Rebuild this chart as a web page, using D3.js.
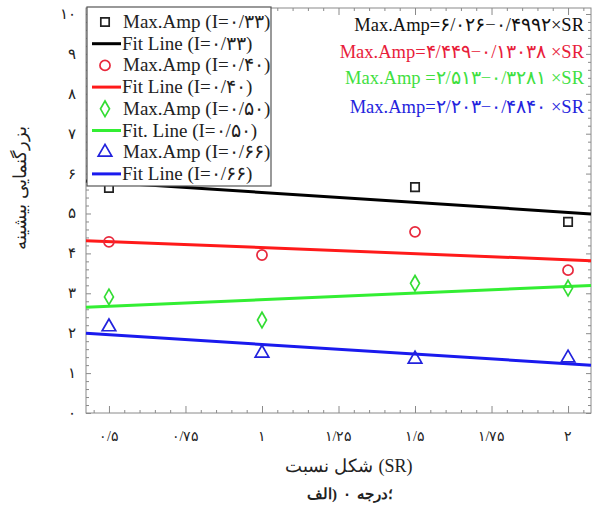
<!DOCTYPE html>
<html><head><meta charset="utf-8">
<script src="https://cdn.jsdelivr.net/npm/d3@7"></script>
<style>body{margin:0;background:#fff}svg{display:block}</style>
</head><body>
<svg id="c" width="596" height="517"></svg>
<script>
// ---- data ----
const srValues = [0.5, 1, 1.5, 2];
const ampI033 = [5.64, 6.0, 5.66, 4.79];
const ampI040 = [4.29, 3.96, 4.54, 3.58];
const ampI050 = [2.91, 2.33, 3.25, 3.13];
const ampI066 = [2.16, 1.50, 1.35, 1.38];
const fitIntercepts = [6.026, 4.449, 2.513, 2.203];
const fitSlopes = [-0.4992, -0.3038, 0.3281, -0.484];
const seriesLabels = ["۰/۳۳", "۰/۴۰", "۰/۵۰", "۰/۶۶"];
const equationTexts = [
  "Max.Amp=۶/۰۲۶−۰/۴۹۹۲×SR",
  "Max.Amp=۴/۴۴۹−۰/۱۳۰۳۸ ×SR",
  "Max.Amp =۲/۵۱۳−۰/۳۲۸۱ ×SR",
  "Max.Amp=۲/۲۰۳−۰/۴۸۴۰ ×SR"
];
const xTickValues = [0.5, 0.75, 1, 1.25, 1.5, 1.75, 2];
const xTickLabels = ["۰/۵", "۰/۷۵", "۱", "۱/۲۵", "۱/۵", "۱/۷۵", "۲"];
const yTickValues = [0,1,2,3,4,5,6,7,8,9,10];
const yTickLabels = ["۰","۱","۲","۳","۴","۵","۶","۷","۸","۹","۱۰"];
const yLabelText = "بزرگنمایی بیشینه";
const xLabelParts = ["نسبت", "شکل", "(SR)"];
const captionParts = ["الف", ")", "۰", "درجه", "؛"];

// ---- styling ----
const markerColors = ["#222222", "#e8283c", "#33dd33", "#2222dd"];
const lineColors = ["#000000", "#ff1a1a", "#33ee33", "#1a1aee"];
const textColors = ["#111111", "#e8203a", "#3fe03f", "#2424dd"];
const markerTypes = [d3.symbolSquare, d3.symbolCircle, d3.symbolDiamond, d3.symbolTriangle];
const markerSizes = [70, 80, 70, 80];
const serif = "'Liberation Serif','Times New Roman',serif";

const svg = d3.select("#c");
const L = 86, R = 591, T = 8, B = 413;
const x = d3.scaleLinear().domain([0.425, 2.075]).range([L, R]);
const y = d3.scaleLinear().domain([0, 10.15]).range([B, T]);

const series = [ampI033, ampI040, ampI050, ampI066];

// frame
svg.append("rect").attr("x", L).attr("y", T).attr("width", R - L).attr("height", B - T)
  .attr("fill", "none").attr("stroke", "#8a8a8a").attr("stroke-width", 1);

// ticks (inward) on all sides
const tickCol = "#8a8a8a";
const xMinor = d3.range(0.45, 2.0751, 0.05).filter(v => !xTickValues.some(t => Math.abs(t - v) < 1e-6));
const yMinor = d3.range(0.2, 10.01, 0.2).filter(v => Math.abs(v - Math.round(v)) > 1e-6);
const axB = d3.axisBottom(x).tickValues(xTickValues).tickSize(-7).tickFormat("");
const axT = d3.axisTop(x).tickValues(xTickValues).tickSize(-7).tickFormat("");
const axBm = d3.axisBottom(x).tickValues(xMinor).tickSize(-3).tickFormat("");
const axTm = d3.axisTop(x).tickValues(xMinor).tickSize(-3).tickFormat("");
const axL = d3.axisLeft(y).tickValues(yTickValues).tickSize(-5).tickFormat("");
const axR = d3.axisRight(y).tickValues(yTickValues).tickSize(-5).tickFormat("");
const axLm = d3.axisLeft(y).tickValues(yMinor).tickSize(-3).tickFormat("");
const axRm = d3.axisRight(y).tickValues(yMinor).tickSize(-3).tickFormat("");
[[axB, `0,${B}`], [axBm, `0,${B}`], [axT, `0,${T}`], [axTm, `0,${T}`],
 [axL, `${L},0`], [axLm, `${L},0`], [axR, `${R},0`], [axRm, `${R},0`]].forEach(([a, t]) => {
  const g = svg.append("g").attr("transform", `translate(${t})`).call(a);
  g.select(".domain").remove();
  g.selectAll("line").attr("stroke", tickCol);
});

// tick labels
svg.append("g").selectAll("text").data(xTickValues).join("text")
  .attr("x", d => x(d)).attr("y", 441).attr("text-anchor", "middle")
  .attr("font-family", serif).attr("font-size", 14).attr("fill", "#222")
  .text((d, i) => xTickLabels[i]);
svg.append("g").selectAll("text").data(yTickValues).join("text")
  .attr("x", 76).attr("y", d => y(d) + 5).attr("text-anchor", "end")
  .attr("font-family", serif).attr("font-size", 15).attr("fill", "#222")
  .text((d, i) => yTickLabels[i]);

// fit lines
const lineGen = d3.line().x(d => x(d[0])).y(d => y(d[1]));
fitIntercepts.forEach((b, i) => {
  const dom = x.domain();
  svg.append("path").datum(dom.map(s => [s, b + fitSlopes[i] * s]))
    .attr("d", lineGen).attr("fill", "none").attr("stroke", lineColors[i]).attr("stroke-width", 3);
});

// markers
series.forEach((vals, i) => {
  const sym = d3.symbol().type(markerTypes[i]).size(markerSizes[i]);
  svg.append("g").selectAll("path").data(vals).join("path")
    .attr("transform", (d, j) => `translate(${x(srValues[j])},${y(d)})`)
    .attr("d", sym).attr("fill", "none").attr("stroke", markerColors[i]).attr("stroke-width", 1.7);
});

// equations
equationTexts.forEach((t, i) => {
  svg.append("text").attr("x", 584).attr("y", [31, 58, 84, 113][i]).attr("text-anchor", "end")
    .attr("font-family", serif).attr("font-size", 18.5).attr("fill", textColors[i]).text(t);
});

// legend
const lg = svg.append("g");
lg.append("rect").attr("x", 87).attr("y", 7).attr("width", 184).attr("height", 179)
  .attr("fill", "#fff").attr("stroke", "#555").attr("stroke-width", 1.2);
seriesLabels.forEach((lab, i) => {
  const y1 = 22 + 43.4 * i, y2 = y1 + 21.7;
  lg.append("path").attr("transform", `translate(105,${y1})`)
    .attr("d", d3.symbol().type(markerTypes[i]).size(markerSizes[i])())
    .attr("fill", "none").attr("stroke", markerColors[i]).attr("stroke-width", 1.7);
  lg.append("text").attr("x", 123).attr("y", y1 + 6).attr("font-family", serif).attr("font-size", 19)
    .attr("fill", "#222").text(`Max.Amp (I=${lab})`);
  lg.append("line").attr("x1", 92).attr("x2", 121).attr("y1", y2).attr("y2", y2)
    .attr("stroke", lineColors[i]).attr("stroke-width", 3);
  lg.append("text").attr("x", 122).attr("y", y2 + 6).attr("font-family", serif).attr("font-size", 19)
    .attr("fill", "#222").text(`${i === 2 ? "Fit. Line" : "Fit Line"} (I=${lab})`);
});

// helper: lay out pieces left-to-right (visual order), centered at cx, middle-anchored
function pieces(parts, cx, cy, size, weight, gaps) {
  const g = svg.append("g");
  const els = parts.map(p => {
    const t = g.append("text").attr("font-family", serif).attr("font-size", size)
      .attr("font-weight", weight).attr("fill", "#222").attr("text-anchor", "middle")
      .attr("x", 0).attr("y", cy).text(p);
    if (!/[\u0600-\u06FF]/.test(p)) t.style("direction", "ltr").style("unicode-bidi", "bidi-override");
    return t;
  });
  const ws = els.map(e => e.node().getComputedTextLength());
  const total = ws.reduce((a, b) => a + b, 0) + gaps.reduce((a, b) => a + b, 0);
  let cur = cx - total / 2;
  els.forEach((e, i) => {
    e.attr("x", cur + ws[i] / 2);
    cur += ws[i] + (gaps[i] || 0);
  });
}
pieces(xLabelParts, 349, 472, 18, "normal", [5, 5]);
pieces(captionParts, 350, 499, 15, "bold", [0, 6, 6, 0]);

// y label
svg.append("text").attr("transform", "translate(26,188) rotate(-90)").attr("text-anchor", "middle")
  .attr("font-family", serif).attr("font-size", 18).attr("fill", "#222").text(yLabelText);
</script>
</body></html>
